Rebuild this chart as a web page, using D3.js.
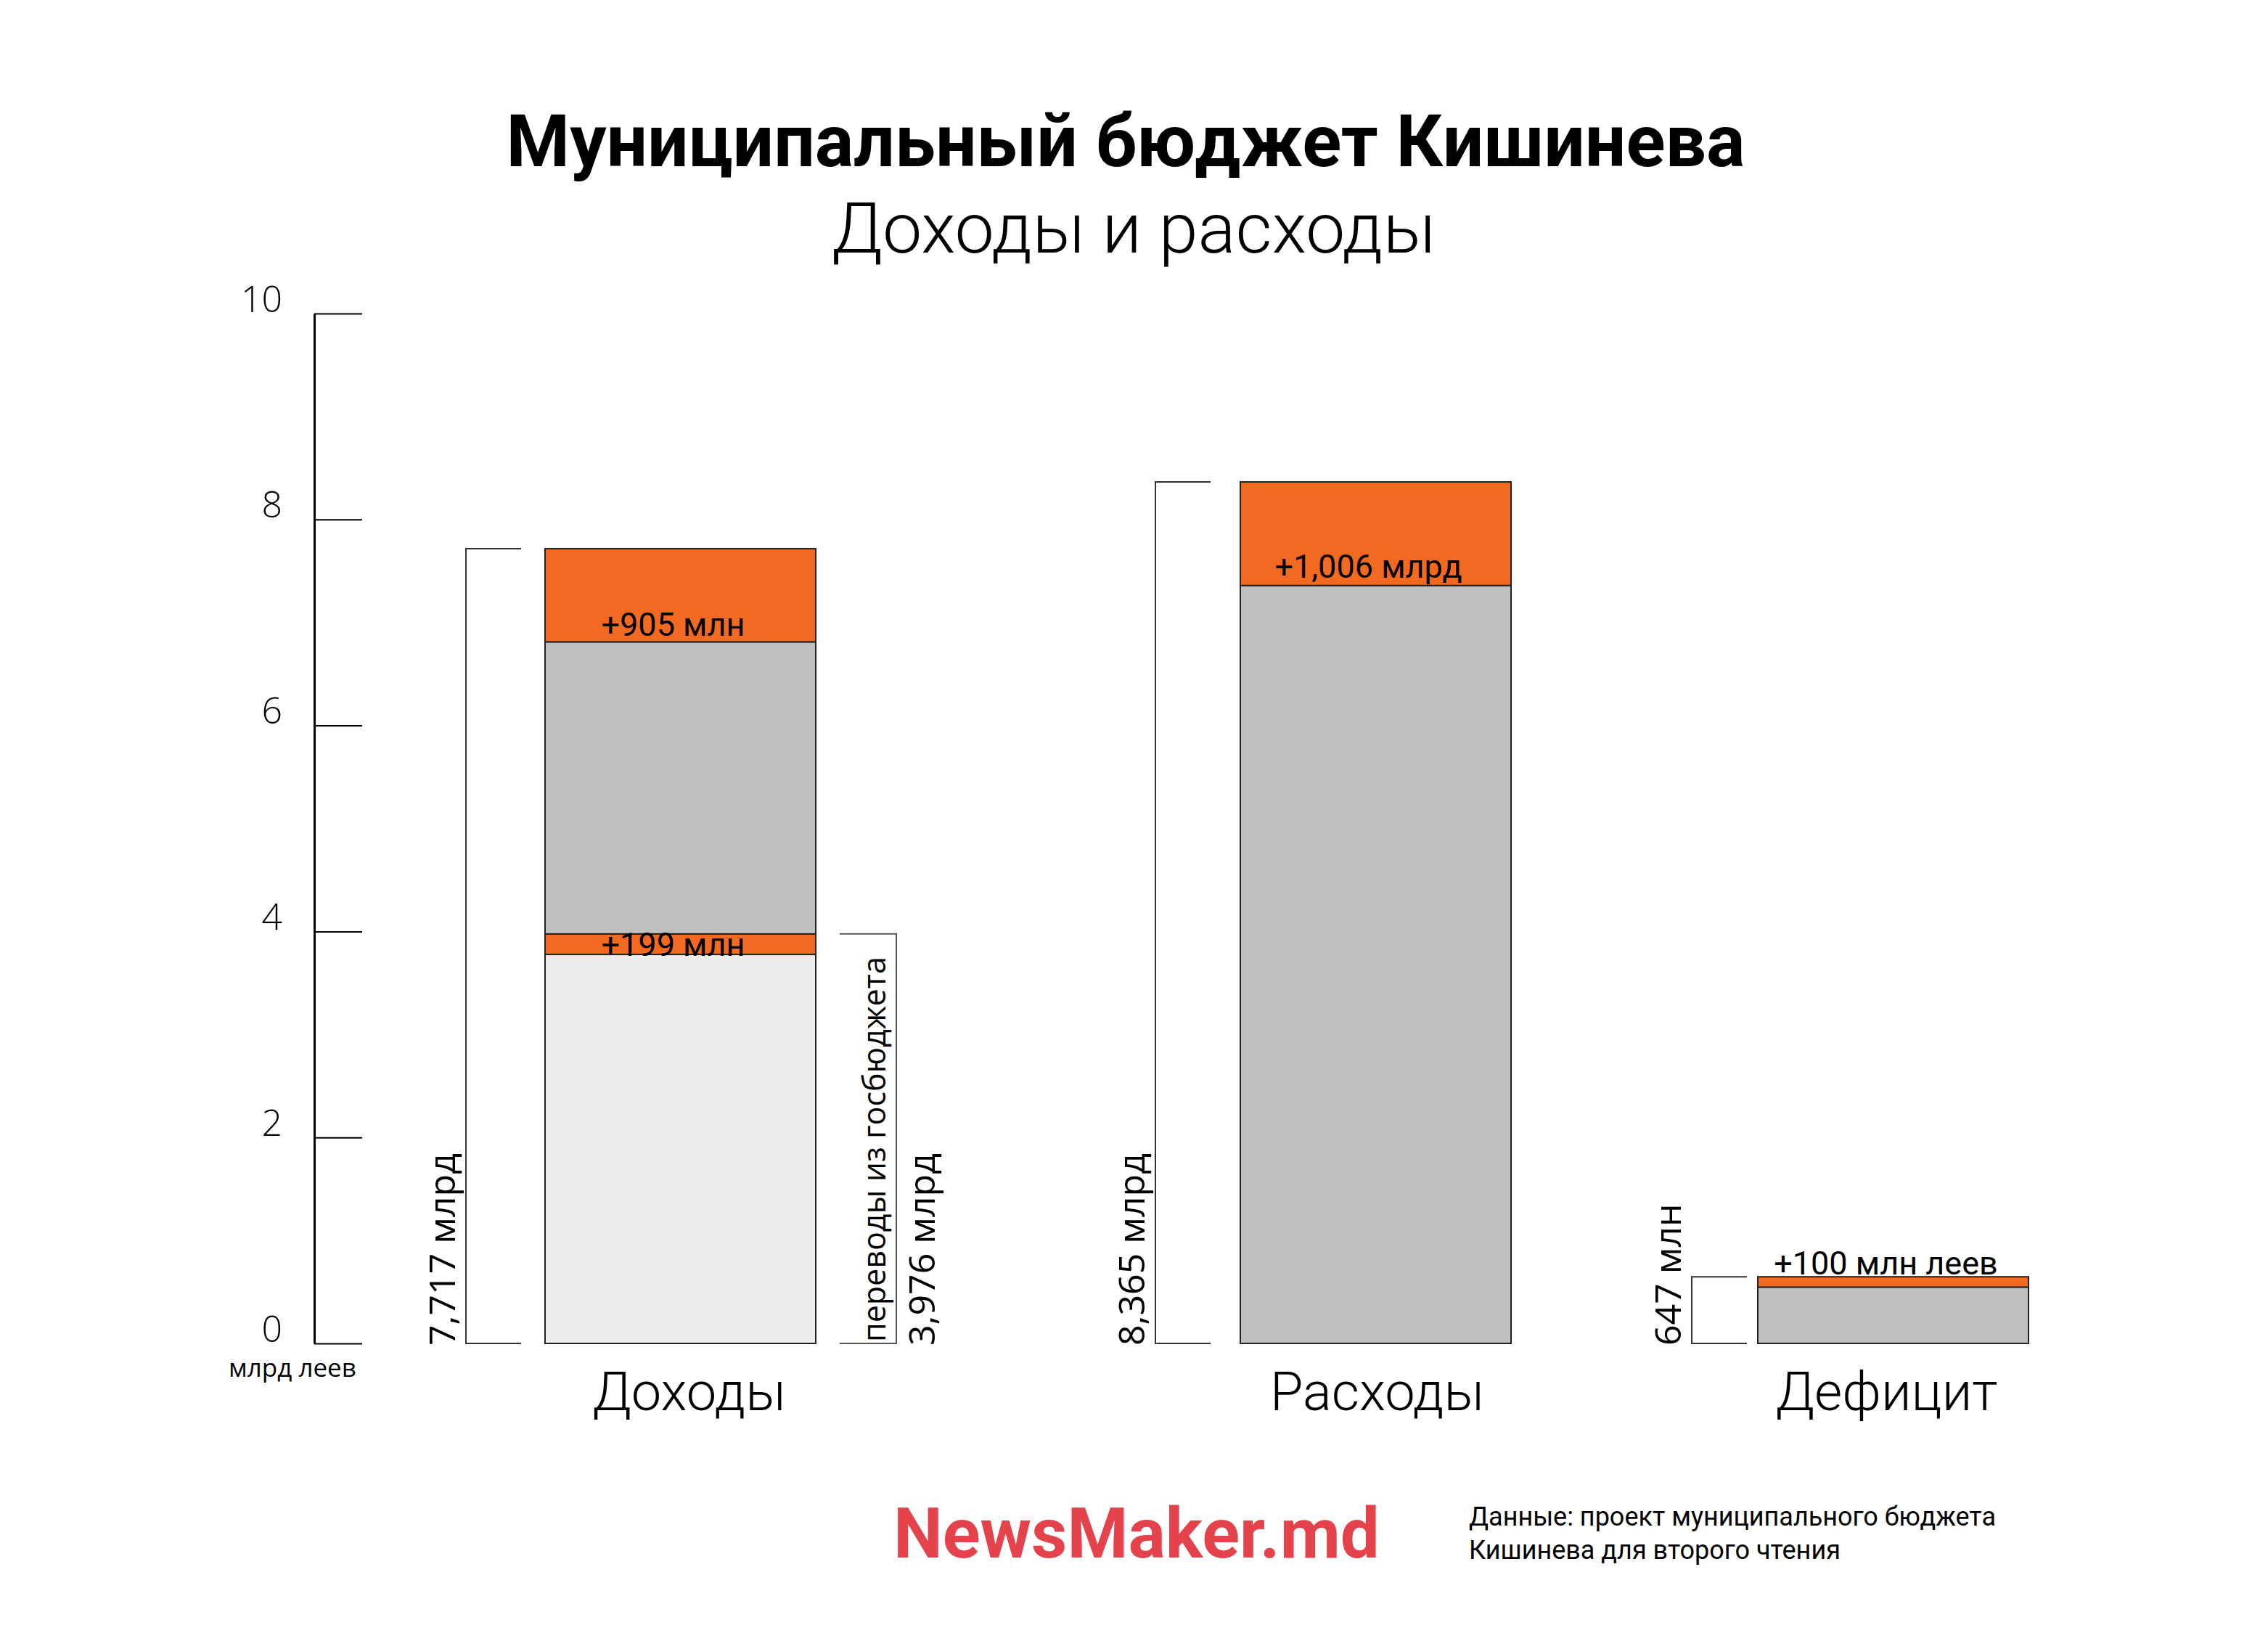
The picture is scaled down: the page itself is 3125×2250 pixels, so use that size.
<!DOCTYPE html>
<html>
<head>
<meta charset="utf-8">
<script src="https://cdn.jsdelivr.net/npm/d3@7"></script>
<style>
  html, body { margin: 0; padding: 0; background: #fff; }
  svg { display: block; }
</style>
</head>
<body>
<svg id="chart" width="3125" height="2250"></svg>
<script>
// ---------- DATA ----------
const categories = ["Доходы", "Расходы", "Дефицит"];
// stacked parts (млрд леев), bottom to top
const incomeParts  = [3.777, 0.199, 2.836, 0.905];
const incomeKinds  = ["transfer", "increase", "base", "increase"];
const expenseParts = [7.359, 1.006];
const expenseKinds = ["base", "increase"];
const deficitParts = [0.547, 0.100];
const deficitKinds = ["base", "increase"];
const totals       = [7.717, 8.365, 0.647];
const totalLabels  = ["7,717 млрд", "8,365 млрд", "647 млн"];
const increaseLabels = ["+199 млн", "+905 млн", "+1,006 млрд", "+100 млн леев"];
const transfersValue = 3.976;
const transfersLabel = "3,976 млрд";
const transfersNote  = "переводы из госбюджета";
const yTicks = [0, 2, 4, 6, 8, 10];

// ---------- LAYOUT ----------
const svg = d3.select("#chart");
const y = d3.scaleLinear().domain([0, 10]).range([1851, 432]);
const xBar = d3.scaleOrdinal().domain(categories).range([751, 1709, 2422]);
const xBracket = d3.scaleOrdinal().domain(categories).range([642, 1592, 2331]);
const labelShift = d3.scaleOrdinal().domain(categories).range([12, 2, -9]);
const barW = 373;
const colors = { transfer: "#ededed", base: "#bfbfbf", increase: "#f26a21" };

// Title
svg.append("text").attr("x", 1551).attr("y", 229).attr("text-anchor", "middle")
  .style("font-family", "Roboto").style("font-weight", 700).style("font-size", "100px")
  .text("Муниципальный бюджет Кишинева");
svg.append("text").attr("x", 1562).attr("y", 348).attr("text-anchor", "middle")
  .style("font-family", "Roboto").style("font-weight", 300).style("font-size", "97px")
  .text("Доходы и расходы");

// Axis
const axisG = svg.append("g").attr("transform", "translate(433,0)")
  .call(d3.axisLeft(y).tickValues(yTicks).tickSize(-66).tickSizeOuter(0).tickPadding(44).tickFormat(d => d));
axisG.select(".domain").attr("stroke", "#000").attr("stroke-width", 3);
axisG.selectAll(".tick line").attr("stroke", "#000").attr("stroke-width", 2);
axisG.selectAll(".tick text").attr("dy", -3)
  .style("font-family", "Open Sans").style("font-weight", 300).style("font-size", "50px").attr("fill", "#000");
svg.append("text").attr("x", 403).attr("y", 1897).attr("text-anchor", "middle")
  .style("font-family", "Open Sans").style("font-weight", 400).style("font-size", "35px")
  .text("млрд леев");

// Build stacked segments
function stack(cat, parts, kinds) {
  let acc = 0;
  return parts.map((v, i) => { const s = { cat, y0: acc, y1: acc + v, kind: kinds[i] }; acc += v; return s; });
}
const segments = [
  ...stack(categories[0], incomeParts, incomeKinds),
  ...stack(categories[1], expenseParts, expenseKinds),
  ...stack(categories[2], deficitParts, deficitKinds)
];

svg.append("g").selectAll("rect").data(segments).join("rect")
  .attr("x", d => xBar(d.cat))
  .attr("y", d => y(d.y1))
  .attr("width", barW)
  .attr("height", d => y(d.y0) - y(d.y1))
  .attr("fill", d => colors[d.kind])
  .attr("stroke", "#222")
  .attr("stroke-width", 2);

// Increase labels
const incSegs = segments.filter(d => d.kind === "increase");
// order: income small, income top, expense, deficit
const incPos = [
  d => y(d.y0) + 2,
  d => y(d.y0) - 8,
  d => y(d.y0) - 11,
  d => y(d.y1) - 3
];
svg.append("g").selectAll("text").data(incSegs).join("text")
  .attr("x", d => xBar(d.cat) + barW / 2 - 10)
  .attr("y", (d, i) => incPos[i](d))
  .attr("text-anchor", "middle")
  .style("font-family", "Roboto").style("font-weight", 400).style("font-size", "45px")
  .text((d, i) => increaseLabels[i]);

// Left brackets for totals
const bracketLen = 76;
const brG = svg.append("g").attr("fill", "none").attr("stroke", "#333").attr("stroke-width", 2);
categories.forEach((c, i) => {
  const bx = xBracket(c);
  brG.append("path").attr("d", d3.line()([
    [bx + bracketLen, y(totals[i])], [bx, y(totals[i])], [bx, y(0)], [bx + bracketLen, y(0)]
  ]));
  svg.append("text")
    .attr("transform", `translate(${bx - 15},${y(0) + 3}) rotate(-90)`)
    .style("font-family", "Open Sans").style("font-weight", 400).style("font-size", "50px")
    .text(totalLabels[i]);
});

// Right bracket for transfers
const rbx = 1235;
brG.append("path").attr("stroke", "#555").attr("d", d3.line()([
  [rbx - 78, y(transfersValue)], [rbx, y(transfersValue)], [rbx, y(0)], [rbx - 78, y(0)]
]));
svg.append("text")
  .attr("transform", `translate(${rbx - 15},${y(0) - 2}) rotate(-90)`)
  .style("font-family", "Open Sans").style("font-weight", 400).style("font-size", "43px")
  .text(transfersNote);
svg.append("text")
  .attr("transform", `translate(${rbx + 53},${y(0) + 3}) rotate(-90)`)
  .style("font-family", "Open Sans").style("font-weight", 400).style("font-size", "50px")
  .text(transfersLabel);

// Category labels
svg.append("g").selectAll("text").data(categories).join("text")
  .attr("x", d => xBar(d) + barW / 2 + labelShift(d))
  .attr("y", 1943)
  .attr("text-anchor", "middle")
  .style("font-family", "Roboto").style("font-weight", 300).style("font-size", "74px")
  .text(d => d);

// Footer
svg.append("text").attr("x", 1231).attr("y", 2146)
  .style("font-family", "Roboto").style("font-weight", 700).style("font-size", "96px")
  .attr("fill", "#e5434b")
  .text("NewsMaker.md");
const src = svg.append("text").style("font-family", "Roboto").style("font-weight", 400).style("font-size", "36px");
src.append("tspan").attr("x", 2024).attr("y", 2102).text("Данные: проект муниципального бюджета");
src.append("tspan").attr("x", 2024).attr("y", 2148).text("Кишинева для второго чтения");
</script>
</body>
</html>
